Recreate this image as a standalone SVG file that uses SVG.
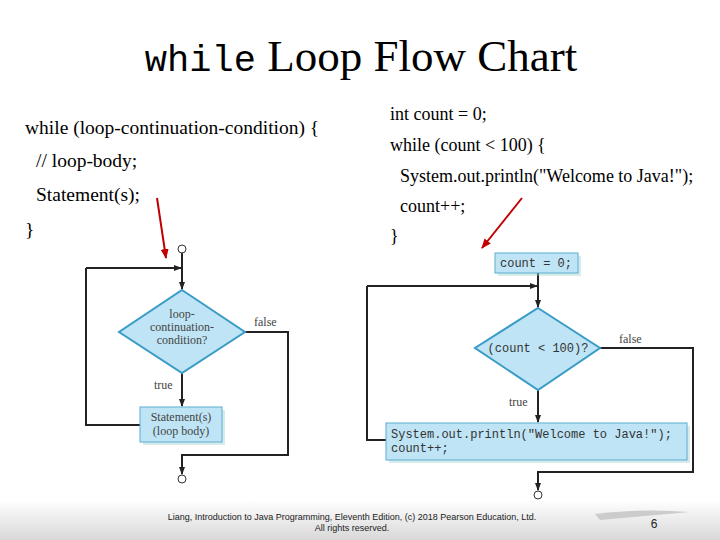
<svg xmlns="http://www.w3.org/2000/svg" width="720" height="540" viewBox="0 0 720 540">
<defs>
<marker id="ah" markerWidth="8" markerHeight="8" refX="7" refY="4" orient="auto" markerUnits="userSpaceOnUse"><path d="M0,1 L8,4 L0,7 Z" fill="#222"/></marker>
<marker id="rh" markerWidth="10" markerHeight="10" refX="9" refY="5" orient="auto" markerUnits="userSpaceOnUse"><path d="M0,1 L10,5 L0,9 Z" fill="#c00000"/></marker>
<linearGradient id="band" x1="0" y1="0" x2="0" y2="1"><stop offset="0" stop-color="#fff"/><stop offset="1" stop-color="#d8d8d8"/></linearGradient>
</defs>
<style>
.c{font-family:"Liberation Serif",serif;font-size:18px;fill:#000}
.cl{font-size:19.5px}
.m{font-family:"Liberation Mono",monospace;fill:#333}
.s{font-family:"Liberation Serif",serif;font-size:12px;fill:#444}
.ln{fill:none;stroke:#222;stroke-width:2}
.bx{fill:#bfe4f5;stroke:#5aaed0;stroke-width:1}
.dm{fill:#bfe4f5;stroke:#3a9cc6;stroke-width:2}
.ci{fill:#fff;stroke:#333;stroke-width:1}
</style>
<rect width="720" height="540" fill="#fff"/>
<rect y="500" width="720" height="40" fill="url(#band)"/>
<text x="361" y="71" text-anchor="middle" font-family="Liberation Serif,serif" font-size="45"><tspan font-family="Liberation Mono,monospace" font-size="37">while</tspan> Loop Flow Chart</text>
<g id="code-left">
<text class="c cl" x="25" y="134">while (loop-continuation-condition) {</text>
<text class="c cl" x="36" y="167">// loop-body;</text>
<text class="c cl" x="36" y="201">Statement(s);</text>
<text class="c cl" x="25" y="236">}</text>
</g>
<g id="code-right">
<text class="c" x="390" y="120">int count = 0;</text>
<text class="c" x="390" y="151">while (count &lt; 100) {</text>
<text class="c" x="400" y="182">System.out.println("Welcome to Java!");</text>
<text class="c" x="400" y="212">count++;</text>
<text class="c" x="390" y="242">}</text>
</g>
<g id="connectors">
<line x1="157" y1="198" x2="166" y2="258" stroke="#c00000" stroke-width="2" marker-end="url(#rh)"/>
<line x1="522" y1="198" x2="482" y2="248" stroke="#c00000" stroke-width="2" marker-end="url(#rh)"/>
<path class="ln" d="M182,253 V289" marker-end="url(#ah)"/>
<path class="ln" d="M86,268 H181" marker-end="url(#ah)"/>
<path class="ln" d="M182,373 V406" marker-end="url(#ah)"/>
<path class="ln" d="M140,425 H86 V268"/>
<path class="ln" d="M245,332 H288 V455 H182 V474" marker-end="url(#ah)"/>
<path class="ln" d="M538,273 V307" marker-end="url(#ah)"/>
<path class="ln" d="M367,286 H537" marker-end="url(#ah)"/>
<path class="ln" d="M538,390 V422" marker-end="url(#ah)"/>
<path class="ln" d="M386,440 H367 V286"/>
<path class="ln" d="M600,348 H693 V472 H538 V490" marker-end="url(#ah)"/>
</g>
<g id="left-start"><circle class="ci" cx="182" cy="249" r="4"/></g>
<g id="left-cond">
<path class="dm" d="M182,290 L245,332 L182,373 L119,332 Z"/>
<text class="s" x="182" y="318" text-anchor="middle">loop-</text>
<text class="s" x="182" y="331" text-anchor="middle">continuation-</text>
<text class="s" x="182" y="344" text-anchor="middle">condition?</text>
<text class="s" x="254" y="326">false</text>
<text class="s" x="154" y="389">true</text>
</g>
<g id="left-body">
<rect x="143" y="410" width="82" height="35" fill="#9cc" opacity="0.4"/>
<rect class="bx" x="140" y="407" width="82" height="35"/>
<text class="s" x="181" y="421" text-anchor="middle">Statement(s)</text>
<text class="s" x="181" y="435" text-anchor="middle">(loop body)</text>
</g>
<g id="left-end"><circle class="ci" cx="182" cy="479" r="4"/></g>
<g id="right-init">
<rect x="498" y="256" width="83" height="20" fill="#9cc" opacity="0.4"/>
<rect class="bx" x="495" y="253" width="83" height="20"/>
<text class="m" x="536" y="267" text-anchor="middle" font-size="12">count = 0;</text>
</g>
<g id="right-cond">
<path class="dm" d="M538,308 L600,348 L538,390 L475,348 Z"/>
<text class="m" x="538" y="352" text-anchor="middle" font-size="12">(count &lt; 100)?</text>
<text class="s" x="619" y="343">false</text>
<text class="s" x="509" y="406">true</text>
</g>
<g id="right-body">
<rect x="389" y="426" width="301" height="37" fill="#9cc" opacity="0.4"/>
<rect class="bx" x="386" y="423" width="301" height="37"/>
<text class="m" x="391" y="438" font-size="12">System.out.println("Welcome to Java!");</text>
<text class="m" x="391" y="452" font-size="12">count++;</text>
</g>
<g id="right-end"><circle class="ci" cx="538" cy="495" r="4"/></g>
<text x="352" y="520" text-anchor="middle" font-family="Liberation Sans,sans-serif" font-size="9" fill="#222">Liang, Introduction to Java Programming, Eleventh Edition, (c) 2018 Pearson Education, Ltd.</text>
<text x="352" y="531" text-anchor="middle" font-family="Liberation Sans,sans-serif" font-size="9" fill="#222">All rights reserved.</text>
<path d="M595,514 Q640,508 690,512 Q645,516 600,520 Z" fill="#ccc"/>
<text x="654" y="528" text-anchor="middle" font-family="Liberation Sans,sans-serif" font-size="12" fill="#222">6</text>
</svg>
